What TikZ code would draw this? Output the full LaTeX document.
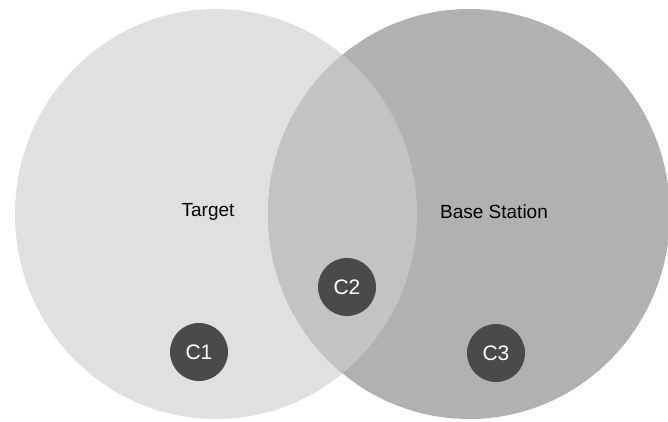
\documentclass[tikz,border=0pt]{standalone}
\usepackage{fontspec}
\setmainfont{Liberation Sans}
\usetikzlibrary{positioning}
\definecolor{targetgray}{RGB}{224,224,224}
\definecolor{stationgray}{RGB}{177,177,177}
\definecolor{overlapgray}{RGB}{195,195,195}
\definecolor{dotgray}{RGB}{74,74,74}

\begin{document}
\begin{tikzpicture}[
  x=1pt, y=-1pt,
  zone/.style={font=\fontsize{19}{22}\selectfont, text=black},
  dot/.style={circle, fill=dotgray, minimum size=58pt, inner sep=0pt,
              text=white, font=\fontsize{21}{24}\selectfont},
]
  \fill[white] (0,0) rectangle (668,421);
  \useasboundingbox (0,0) rectangle (668,421);

  % the two areas and their overlap
  \fill[targetgray] (216,214) ellipse [x radius=201, y radius=205];
  \fill[stationgray] (469,214) ellipse [x radius=201, y radius=205];
  \begin{scope}
    \clip (216,214) ellipse [x radius=201, y radius=205];
    \fill[overlapgray] (469,214) ellipse [x radius=201, y radius=205];
  \end{scope}

  \node[zone] (target) at (208,212) {Target};
  \node[zone] (station) at (494,212) {Base Station};

  \node[dot] (c1) at (199,352) {C1};
  \node[dot] (c2) at (347,287) {C2};
  \node[dot] (c3) at (496,353) {C3};
\end{tikzpicture}
\end{document}
